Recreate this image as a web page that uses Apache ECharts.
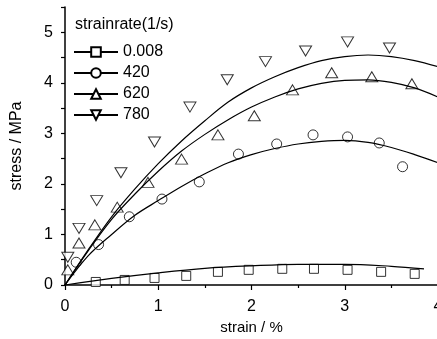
<!DOCTYPE html>
<html>
<head>
<meta charset="utf-8">
<script src="https://cdn.jsdelivr.net/npm/echarts@6/dist/echarts.min.js"></script>
<style>
  html, body { margin: 0; padding: 0; background: #fff; }
  #chart { width: 437px; height: 339px; }
</style>
</head>
<body>
<div id="chart"></div>
<script>
// strain rates (legend)
const rateNames = ['0.008', '420', '620', '780']

// measured points, strain (%) / stress (MPa)
const strain0008 = [0.33, 0.64, 0.96, 1.3, 1.64, 1.97, 2.33, 2.67, 3.03, 3.39, 3.75]
const stress0008 = [0.06, 0.1, 0.14, 0.18, 0.26, 0.3, 0.32, 0.32, 0.3, 0.26, 0.22]
const strain420 = [0.12, 0.36, 0.69, 1.04, 1.44, 1.86, 2.27, 2.66, 3.03, 3.37, 3.62]
const stress420 = [0.45, 0.8, 1.35, 1.7, 2.04, 2.59, 2.79, 2.97, 2.93, 2.81, 2.34]
const strain620 = [0.03, 0.15, 0.32, 0.56, 0.89, 1.25, 1.64, 2.03, 2.44, 2.86, 3.29, 3.72]
const stress620 = [0.3, 0.83, 1.19, 1.54, 2.03, 2.49, 2.97, 3.35, 3.86, 4.2, 4.12, 3.98]
const strain780 = [0.03, 0.15, 0.34, 0.6, 0.96, 1.34, 1.74, 2.15, 2.58, 3.03, 3.48]
const stress780 = [0.55, 1.12, 1.67, 2.22, 2.83, 3.52, 4.06, 4.42, 4.63, 4.81, 4.69]

// fitted curves
const fitStrain = [0, 0.25, 0.5, 0.75, 1, 1.25, 1.5, 1.75, 2, 2.25, 2.5, 2.75, 3, 3.25, 3.5, 3.75, 4]
const fit420 = [0, 0.58, 1.0, 1.38, 1.67, 1.95, 2.2, 2.42, 2.58, 2.7, 2.79, 2.84, 2.86, 2.82, 2.72, 2.58, 2.42]
const fit620 = [0, 0.68, 1.3, 1.8, 2.25, 2.65, 2.98, 3.27, 3.52, 3.72, 3.88, 3.99, 4.05, 4.06, 4.01, 3.9, 3.72]
const fit780 = [0, 0.7, 1.35, 1.9, 2.4, 2.85, 3.25, 3.62, 3.9, 4.12, 4.3, 4.44, 4.52, 4.55, 4.52, 4.44, 4.32]
const fitStrain0008 = [0, 0.5, 1, 1.5, 2, 2.5, 3, 3.5, 3.85]
const fit0008 = [0, 0.13, 0.24, 0.33, 0.38, 0.41, 0.41, 0.37, 0.32]

// tick labels
const xTicks = [0, 1, 2, 3, 4]
const yLabels = [0, 1, 2, 3, 4, 5]
const yTicks = [0, 0.5, 1, 1.5, 2, 2.5, 3, 3.5, 4, 4.5, 5, 5.5]

const font = '"Liberation Sans", Arial, sans-serif'
const zip = (xs, ys) => xs.map((x, i) => [x, ys[i]])

const groups = [
  { name: rateNames[0], symbol: 'rect', size: 9, rotate: 0, pts: zip(strain0008, stress0008), fit: zip(fitStrain0008, fit0008) },
  { name: rateNames[1], symbol: 'circle', size: 10, rotate: 0, pts: zip(strain420, stress420), fit: zip(fitStrain, fit420) },
  { name: rateNames[2], symbol: 'triangle', size: [12, 10], rotate: 0, pts: zip(strain620, stress620), fit: zip(fitStrain, fit620) },
  { name: rateNames[3], symbol: 'triangle', size: [12, 10], rotate: 180, pts: zip(strain780, stress780), fit: zip(fitStrain, fit780) },
]

const markStyle = { color: '#fff', borderColor: '#000', borderWidth: 1 }

const series = []
groups.forEach(g => {
  // fitted curve (also gives the legend its line + symbol icon)
  series.push({
    name: g.name,
    type: 'line',
    data: g.fit,
    smooth: 0.35,
    symbol: g.symbol,
    symbolSize: g.size,
    symbolRotate: g.rotate,
    showSymbol: false,
    lineStyle: { color: '#000', width: 1.2 },
    itemStyle: markStyle,
    z: 3,
    silent: true,
  })
  series.push({
    name: g.name,
    type: 'scatter',
    data: g.pts,
    symbol: g.symbol,
    symbolSize: g.size,
    symbolRotate: g.rotate,
    itemStyle: markStyle,
    z: 2,
  })
})

const chart = echarts.init(document.getElementById('chart'), null, { renderer: 'canvas' })
chart.setOption({
  animation: false,
  backgroundColor: '#fff',
  title: {
    text: 'strainrate(1/s)',
    left: 75,
    top: 17,
    padding: 0,
    textStyle: { fontFamily: font, fontSize: 16, fontWeight: 'normal', color: '#000' },
  },
  legend: {
    data: rateNames,
    orient: 'vertical',
    left: 73,
    top: 44,
    padding: 0,
    itemWidth: 44,
    itemHeight: 12,
    itemGap: 5,
    textStyle: { fontFamily: font, fontSize: 16, color: '#000' },
  },
  grid: { left: 65, right: -1, top: 7, bottom: 54, outerBoundsMode: 'none', containLabel: false },
  xAxis: {
    type: 'value',
    min: 0,
    max: 4,
    interval: 1,
    name: 'strain / %',
    nameLocation: 'middle',
    nameGap: 35,
    nameTextStyle: { fontFamily: font, fontSize: 15, color: '#000' },
    axisLine: { lineStyle: { color: '#000', width: 1.5 } },
    axisTick: { length: 5, lineStyle: { color: '#000', width: 1.2 } },
    minorTick: { show: true, splitNumber: 2, length: 3, lineStyle: { color: '#000', width: 1.2 } },
    axisLabel: { fontFamily: font, fontSize: 16, color: '#000', margin: 14, customValues: xTicks },
    splitLine: { show: false },
  },
  yAxis: {
    type: 'value',
    min: 0,
    max: 5.5,
    interval: 1,
    name: 'stress / MPa',
    nameLocation: 'middle',
    nameGap: 40,
    nameTextStyle: { fontFamily: font, fontSize: 16, color: '#000' },
    axisLine: { show: true, lineStyle: { color: '#000', width: 1.5 } },
    axisTick: { show: true, length: 4, customValues: yTicks, lineStyle: { color: '#000', width: 1.2 } },
    axisLabel: { fontFamily: font, fontSize: 16, color: '#000', margin: 12, customValues: yLabels },
    splitLine: { show: false },
  },
  series: series,
})
</script>
</body>
</html>
